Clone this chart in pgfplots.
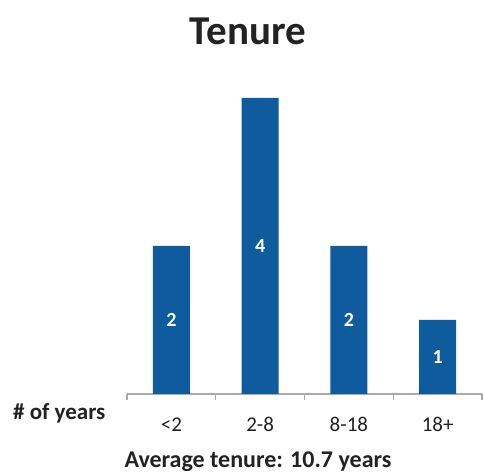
\documentclass[border=0pt]{standalone}
\usepackage{fontspec}
\setmainfont{Carlito}
\usepackage{pgfplots}
\pgfplotsset{compat=1.18}
\definecolor{barblue}{RGB}{14,92,158}
\definecolor{axgray}{RGB}{170,170,170}
\definecolor{txt}{RGB}{34,34,34}
\begin{document}
\begin{tikzpicture}
\useasboundingbox (0,0) rectangle (484bp,472bp);
\begin{axis}[
  at={(127bp,78bp)}, anchor=south west,
  scale only axis, width=355bp, height=296bp,
  xmin=-0.5, xmax=3.5, ymin=0, ymax=4,
  clip=false,
  axis x line*=bottom, axis y line=none,
  axis line style={axgray, line width=1.2bp},
  xtick={0,1,2,3},
  xticklabels={{<2},{2-8},{8-18},{18+}},
  minor xtick={-0.5,0.5,1.5,2.5,3.5},
  major tick length=0pt,
  minor tick length=6bp,
  tick align=outside,
  minor tick style={axgray, line width=1.2bp},
  xticklabel style={font=\fontsize{21bp}{25bp}\selectfont, text=txt, anchor=base, yshift=-38bp, inner sep=0pt},
]
\addplot[ybar, bar width=37bp, fill=barblue, draw=none] coordinates {(0,2) (1,4) (2,2) (3,1)};
\addplot[draw=none, mark=none, nodes near coords, point meta=explicit symbolic,
  every node near coord/.append style={anchor=center, text=white, font=\bfseries\fontsize{20bp}{24bp}\selectfont}]
  coordinates {(0,1)[2] (1,2)[4] (2,1)[2] (3,0.5)[1]};
\end{axis}
\node[anchor=base, font=\bfseries\fontsize{41bp}{48bp}\selectfont, text=txt] at (248bp,427bp) {Tenure};
\node[anchor=base west, inner sep=0pt, font=\bfseries\fontsize{23bp}{27bp}\selectfont, text=txt] at (13bp,52bp) {\# of years};
\node[anchor=base, inner sep=0pt, font=\bfseries\fontsize{24bp}{28bp}\selectfont, text=txt] at (258bp,5bp) {Average tenure: 10.7 years};
\end{tikzpicture}
\end{document}
